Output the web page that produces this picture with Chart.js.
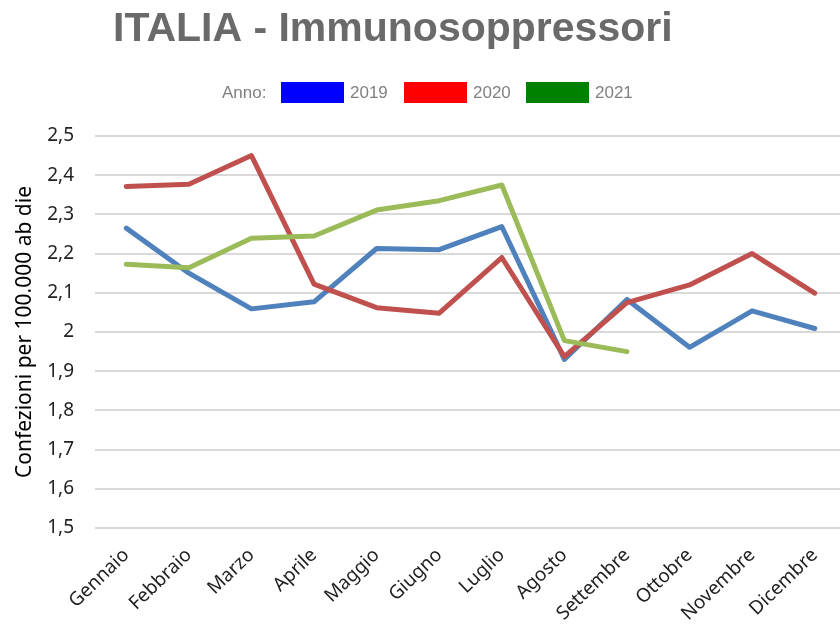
<!DOCTYPE html>
<html>
<head>
<meta charset="utf-8">
<script src="https://cdn.jsdelivr.net/npm/chart.js@4/dist/chart.umd.min.js"></script>
<style>
  html, body { margin: 0; padding: 0; background: #fff; overflow: hidden; width: 840px; height: 626px; }
  #wrap { position: absolute; left: 0; top: 0; width: 850px; height: 626px; }
</style>
</head>
<body>
<div id="wrap"><canvas id="c" width="850" height="626"></canvas></div>
<script>
const titleText = "ITALIA - Immunosoppressori";
const legendLabel = "Anno:";
const months = ["Gennaio","Febbraio","Marzo","Aprile","Maggio","Giugno","Luglio","Agosto","Settembre","Ottobre","Novembre","Dicembre"];
const years = ["2019","2020","2021"];
const values2019 = [2.265, 2.150, 2.059, 2.077, 2.213, 2.210, 2.269, 1.930, 2.083, 1.961, 2.054, 2.009];
const values2020 = [2.371, 2.377, 2.450, 2.122, 2.062, 2.048, 2.190, 1.937, 2.075, 2.120, 2.200, 2.099];
const values2021 = [2.173, 2.164, 2.239, 2.245, 2.311, 2.335, 2.375, 1.978, 1.950, null, null, null];
const yTitle = "Confezioni per 100.000 ab die";

const lineColors = ["#4F81BD", "#C0504D", "#9BBB59"];
const legendColors = ["#0000FF", "#FF0000", "#008000"];

const headerPlugin = {
  id: 'header',
  afterDraw(chart) {
    const ctx = chart.ctx;
    ctx.save();
    ctx.fillStyle = '#6a6a6a';
    ctx.font = 'bold 41px "Liberation Sans", Arial, sans-serif';
    ctx.textAlign = 'left';
    ctx.textBaseline = 'alphabetic';
    ctx.fillText(titleText, 113, 41);

    ctx.font = '17px "Liberation Sans", Arial, sans-serif';
    ctx.fillStyle = '#808080';
    ctx.textBaseline = 'middle';
    ctx.fillText(legendLabel, 222, 93);
    const boxes = [281, 404, 526];
    boxes.forEach((bx, i) => {
      ctx.fillStyle = legendColors[i];
      ctx.fillRect(bx, 82, 63, 21);
      ctx.fillStyle = '#808080';
      ctx.fillText(years[i], bx + 69, 93);
    });
    ctx.restore();
  }
};

const fmt = v => {
  const r = Math.round(v * 10) / 10;
  return r.toString().replace('.', ',');
};

new Chart(document.getElementById('c'), {
  type: 'line',
  data: {
    labels: months,
    datasets: [
      { label: years[0], data: values2019, borderColor: lineColors[0], order: 3 },
      { label: years[1], data: values2020, borderColor: lineColors[1], order: 2 },
      { label: years[2], data: values2021, borderColor: lineColors[2], order: 1 }
    ].map(d => Object.assign(d, {
      borderWidth: 5, pointRadius: 0, tension: 0, fill: false,
      borderCapStyle: 'round', borderJoinStyle: 'round', spanGaps: false
    }))
  },
  options: {
    responsive: false,
    animation: false,
    layout: { padding: { top: 136, right: 4, left: 0, bottom: 0 } },
    plugins: { legend: { display: false }, title: { display: false }, tooltip: { enabled: false } },
    scales: {
      x: {
        offset: true,
        grid: { display: false },
        border: { display: false },
        ticks: {
          color: '#222',
          font: { family: '"Noto Sans", sans-serif', size: 19 },
          minRotation: 44, maxRotation: 44, padding: 8, autoSkip: false
        },
        afterFit(s) { s.height = 98; }
      },
      y: {
        min: 1.5, max: 2.5,
        border: { display: false },
        grid: { color: '#d9d9d9', lineWidth: 2, drawTicks: false },
        ticks: {
          stepSize: 0.1, color: '#222', padding: 21,
          font: { family: '"Noto Sans", sans-serif', size: 19 },
          callback: v => fmt(v)
        },
        title: {
          display: true, text: yTitle, color: '#000',
          font: { family: '"Noto Sans", sans-serif', size: 21 },
          padding: { top: 12, bottom: 0 }
        },
        afterFit(s) { s.width = 95; }
      }
    }
  },
  plugins: [headerPlugin]
});
</script>
</body>
</html>
